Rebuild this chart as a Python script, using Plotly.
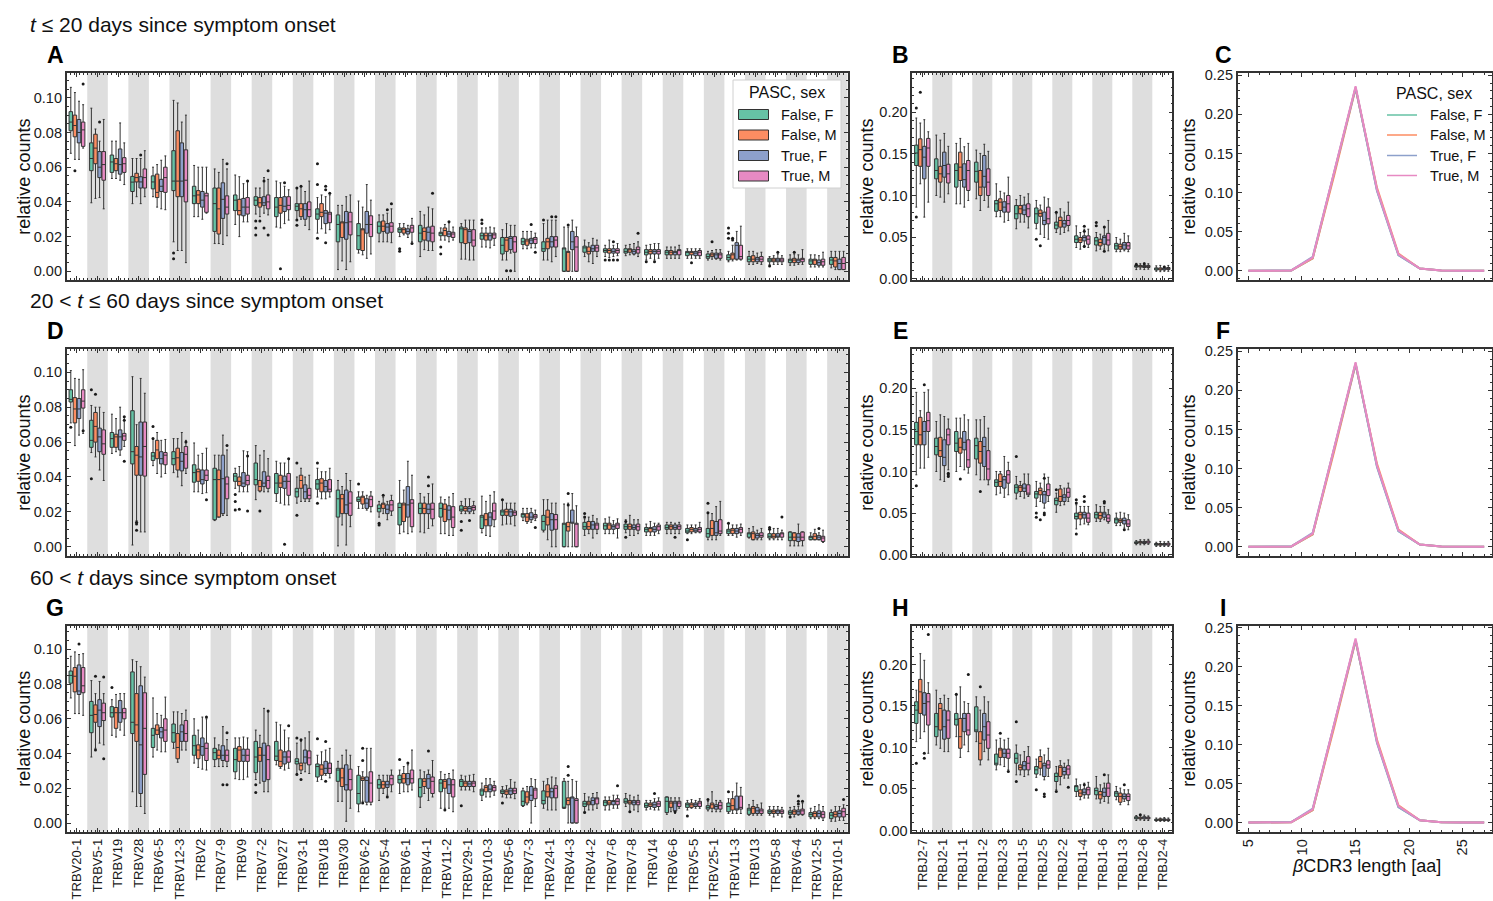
import plotly.graph_objects as go

W, H = 1493, 901
FONT = "Liberation Sans, Arial, Helvetica, sans-serif"
EDGE = "#333333"

GROUPS = ["False, F", "False, M", "True, F", "True, M"]
COLORS = ["#66c2a5", "#fc8d62", "#8da0cb", "#e78ac3"]

TRBV = ["TRBV20-1", "TRBV5-1", "TRBV19", "TRBV28", "TRBV6-5", "TRBV12-3", "TRBV2",
        "TRBV7-9", "TRBV9", "TRBV7-2", "TRBV27", "TRBV3-1", "TRBV18", "TRBV30",
        "TRBV6-2", "TRBV5-4", "TRBV6-1", "TRBV4-1", "TRBV11-2", "TRBV29-1",
        "TRBV10-3", "TRBV5-6", "TRBV7-3", "TRBV24-1", "TRBV4-3", "TRBV4-2",
        "TRBV7-6", "TRBV7-8", "TRBV14", "TRBV6-6", "TRBV5-5", "TRBV25-1",
        "TRBV11-3", "TRBV13", "TRBV5-8", "TRBV6-4", "TRBV12-5", "TRBV10-1"]
TRBJ = ["TRBJ2-7", "TRBJ2-1", "TRBJ1-1", "TRBJ1-2", "TRBJ2-3", "TRBJ1-5", "TRBJ2-5",
        "TRBJ2-2", "TRBJ1-4", "TRBJ1-6", "TRBJ1-3", "TRBJ2-6", "TRBJ2-4"]

# Box statistics per gene: (lower whisker, Q1, median, Q3, upper whisker), in units of 1e-3
# ---- t <= 20 days, TRBV ----
V1_FF = [(68, 81, 86, 92, 106), (39.5, 58, 65, 74, 94), (53.5, 57, 63, 67, 75), (39, 46, 51.4, 54.7, 65),
         (43, 47.5, 51.5, 55, 60), (17, 46.5, 52, 69.5, 98.5), (31.5, 39, 43.5, 49, 61), (16, 23, 39, 48, 59),
         (27, 35, 41, 44, 55.5), (33, 38, 41, 43, 48), (25.5, 31.5, 37, 42.5, 52), (29.5, 35, 37.5, 39, 48),
         (22, 30, 33, 36, 42.5), (1, 17, 27, 32.5, 38), (10.5, 12.5, 20.5, 27.5, 40.5), (17, 22, 26, 28.5, 32.5),
         (20, 22.5, 24, 25, 27.5), (8.5, 17, 22, 26.5, 34.5), (18, 20.5, 22, 22.5, 25), (7, 16.5, 24.5, 25.5, 27.5),
         (14, 18.5, 20.5, 22, 25), (6.5, 10, 15, 19.5, 24), (13, 15.5, 17, 19, 23), (6.5, 11.5, 13, 17, 27.5),
         (0, 0, 13, 13.5, 25.5), (8.5, 11, 13.5, 14.5, 18), (8.5, 11, 12, 13, 15), (9, 10.5, 11.5, 13, 15),
         (6.5, 9.5, 11, 12.5, 15), (7.5, 9.5, 11, 12, 14), (7.5, 9, 11, 11.5, 13), (6.5, 7.5, 8.5, 10, 11.5),
         (5.5, 6.5, 8, 9.5, 11.5), (4, 5.5, 7, 8.5, 11.5), (4, 5.5, 6.5, 7.5, 8.5), (3.5, 5, 6.5, 7, 9.5),
         (2.5, 4, 6, 7, 9.5), (2, 4, 6.5, 8, 11.5)]
V1_FM = [(64.5, 77.5, 84, 90, 103), (42, 62, 71, 79, 82), (53.5, 58, 62, 65, 75), (43, 51.5, 54, 56.5, 65),
         (37, 42.5, 45.5, 56, 61.5), (12, 43, 52, 81, 97), (31.5, 39, 44, 46.5, 60), (16, 21.5, 36, 48, 57),
         (20, 32.5, 35, 41.5, 54.5), (31.5, 37, 39.5, 42.5, 48), (25, 33.5, 38, 42.5, 51), (30, 31.5, 36, 39, 49),
         (24.5, 31.5, 34, 39, 44), (6, 19.5, 28, 28.5, 38), (9.5, 12, 24, 24.5, 37), (17, 23, 26, 29, 32.5),
         (21, 22, 24, 25, 27.5), (12.5, 18, 23, 25, 32.5), (18, 20.5, 23.5, 25, 27), (7, 16, 24, 25, 29.5),
         (14, 18, 20.5, 22, 25), (6.5, 11.5, 18, 19.5, 27.5), (13, 15, 17.5, 18.5, 23), (6.5, 13, 17, 19, 29.5),
         (0, 0, 11, 11.5, 25.5), (5.5, 10, 11.5, 14, 16.5), (8, 10.5, 12, 13, 18), (9.5, 11, 12.5, 13, 15.5),
         (7.5, 10, 11.5, 12.5, 15.5), (7.5, 9.5, 11, 12, 14), (7.5, 9.5, 11, 11.5, 13), (7, 8.5, 9.5, 10.5, 12),
         (6, 7, 9.5, 10.5, 15), (4, 5.5, 7, 9, 11.5), (4, 5.5, 6.5, 7.5, 9), (3.5, 5, 6.5, 7.5, 10),
         (2.5, 4, 6.5, 7, 9.5), (1, 2.5, 6, 8, 11.5)]
V1_TF = [(64.5, 74, 80, 87.5, 98), (42.5, 54, 60, 69, 75), (52.5, 56, 61.5, 70.5, 85.5), (39, 48, 51.5, 54.5, 65),
         (36, 46, 49, 53, 64), (12, 43, 52, 74, 86), (30, 37, 41, 46, 60), (15.5, 30.5, 41.5, 51, 64.5),
         (28.5, 32, 37, 42, 50.5), (33.5, 38, 39.5, 43, 54), (27.5, 34.5, 37.5, 43, 49), (26.5, 30, 35.5, 39, 46),
         (22, 27.5, 33.5, 35, 43), (1, 18.5, 28, 34.5, 43), (7.5, 22, 27, 34.5, 50), (17, 22, 25.5, 27.5, 33.5),
         (19.5, 21.5, 23, 24.5, 26.5), (12, 17.5, 22.5, 25.5, 37), (17, 20, 21.5, 23, 28), (6.5, 16.5, 23, 24, 29.5),
         (13.5, 18, 20.5, 22, 25.5), (10.5, 12.5, 19, 20, 26.5), (13.5, 16, 18, 19, 23), (5.5, 14, 17, 20, 29.5),
         (0, 12.5, 17, 23, 29.5), (4.5, 11.5, 13, 15, 19), (8.5, 10.5, 11.5, 13, 15), (9.5, 10, 11.5, 12.5, 16),
         (6.5, 10, 11.5, 12.5, 16), (7.5, 9.5, 11, 11.5, 14), (7.5, 9, 10.5, 11.5, 13), (7, 7.5, 9.5, 10.5, 12.5),
         (6.5, 7, 15, 16.5, 23), (4.5, 5.5, 7, 8, 10.5), (4, 5.5, 6.5, 7.5, 10), (4, 5, 6.5, 7, 9.5),
         (2.5, 3.5, 5, 6.5, 9), (1, 1, 4.5, 7, 11.5)]
V1_TM = [(71, 72, 81.5, 86, 96), (36, 52.5, 61.5, 69, 87.5), (50, 57, 62, 65.5, 74), (43, 48, 54, 59, 69.5),
         (35.5, 45.5, 54, 60, 66.5), (5, 40, 52.5, 70, 90), (33.5, 34, 43.5, 45, 60), (20.5, 33, 37, 43.5, 59),
         (28.5, 33, 37, 42.5, 52), (32.5, 36, 40, 44, 53), (29.5, 35.5, 38, 43, 47), (24, 31.5, 35.5, 40, 52),
         (24, 28, 33, 34, 44), (5.5, 21, 28.5, 34, 44), (10, 20, 27, 32, 41), (16.5, 22.5, 26, 28, 36),
         (17, 22.5, 25, 26.5, 30.5), (12, 17, 22, 26, 36), (18, 19.5, 21.5, 22.5, 25.5), (6.5, 14.5, 18, 24, 29.5),
         (15, 19, 21, 22, 25), (0, 11, 17, 20, 26.5), (13.5, 16, 18.5, 19.5, 22), (8.5, 14, 18, 20, 29.5),
         (0, 0, 14, 20, 25.5), (8.5, 11.5, 13.5, 15, 18), (9, 10.5, 12, 13, 16), (8.5, 10.5, 12.5, 14, 17),
         (7.5, 10, 11.5, 12.5, 16), (7.5, 9.5, 12, 12.5, 15), (7.5, 9, 11, 12, 13), (6.5, 7.5, 9.5, 10.5, 12.5),
         (6.5, 7, 8.5, 15, 26), (4, 5.5, 7, 8.5, 11), (4, 5.5, 6.5, 7.5, 9), (4, 5.5, 7, 7.5, 12.5),
         (2.5, 3.5, 5.5, 7, 11), (1, 1, 4.5, 8, 11.5)]
# outliers: (gene position, group index, value x 1e-3)
V1_OUT = [(1, 3, 108), (1, 1, 58), (2, 2, 86), (4, 2, 67), (6, 0, 10.5), (6, 0, 7.3), (8, 3, 62), (9, 3, 52),
          (10, 0, 29), (10, 0, 25), (10, 0, 21), (10, 1, 29), (10, 2, 52), (10, 2, 25), (10, 3, 58), (10, 3, 21),
          (11, 1, 1.5), (11, 2, 51), (12, 0, 48), (12, 0, 29.5), (12, 0, 26.5), (12, 1, 49), (13, 0, 62),
          (13, 0, 50), (13, 0, 19), (13, 2, 49), (13, 2, 47), (13, 2, 16.5), (13, 3, 45), (16, 2, 35.5),
          (16, 3, 39), (17, 0, 13), (17, 0, 11.5), (17, 3, 16), (18, 3, 45), (19, 0, 14), (19, 0, 10),
          (19, 2, 28.5), (21, 0, 29.5), (21, 0, 27.5), (22, 1, 0.4), (22, 2, 0.4), (23, 2, 27), (23, 3, 11),
          (24, 0, 29.5), (24, 2, 31.5), (24, 3, 31.5), (25, 1, 26.7), (27, 0, 6.5), (27, 1, 6.5), (27, 2, 6.5),
          (27, 2, 17), (27, 3, 6.5), (28, 3, 22), (29, 0, 5.5), (29, 2, 5.5), (31, 1, 5), (32, 1, 17),
          (33, 0, 25), (33, 0, 22), (33, 0, 19), (33, 1, 19), (33, 1, 18), (35, 0, 3), (35, 2, 11), (36, 1, 11)]

# ---- 20 < t <= 60 days, TRBV ----
V2_FF = [(71, 83, 84.5, 90, 101), (54, 57, 61, 72.5, 81), (53.5, 57, 62, 65.5, 76), (1, 47.5, 54.5, 78, 97.5),
         (46.5, 49.5, 52, 54, 61.5), (42.5, 47, 50.5, 54.5, 62), (31.5, 37, 42.5, 47, 59.5), (15, 15.5, 38.5, 45, 52.5),
         (33.5, 37.5, 40.5, 42, 45), (27, 35.5, 38.5, 48, 58), (26, 30.5, 36.5, 42, 49), (25, 28.5, 31.5, 33.5, 40),
         (28.5, 33, 36, 38.5, 45), (0.5, 17, 27.5, 32.5, 38), (22, 26, 27, 28.5, 31.5), (17, 20, 22, 24, 26),
         (7.5, 12.5, 22.5, 25, 38), (8.5, 19, 22, 25, 30.5), (7.5, 17, 22, 25, 28.5), (19, 20.5, 21.5, 23.5, 26),
         (8, 10.5, 17, 18, 29), (12.5, 18, 20, 21, 27), (15, 17, 18.5, 19, 22), (8.5, 9.5, 14.5, 18, 27),
         (0, 0, 13, 13.5, 24.5), (6.5, 10, 11.5, 14, 16), (7.5, 10, 12, 13.5, 16), (8, 10, 11.5, 13, 15.5),
         (6.5, 8.5, 10, 11, 13), (7.5, 10, 11, 12.5, 14), (7.5, 8, 9, 10.5, 12.5), (4, 5.5, 7.5, 10.5, 19),
         (6.5, 7.5, 9, 10, 13.5), (5, 5.5, 7.5, 8, 10.5), (4, 5, 6, 7.5, 11), (0.5, 3.5, 5.5, 8.5, 8.5),
         (4, 4, 5.5, 6, 8)]
V2_FM = [(58, 71, 79, 85.5, 96.5), (51.5, 60, 69, 77, 80), (54.5, 57, 63, 64.5, 73.5), (15, 41, 52.5, 57.5, 70),
         (42, 50.5, 55.5, 61, 65.5), (40, 44, 51, 56.5, 62), (31.5, 37.5, 43, 44.5, 52.5), (17, 17, 38.5, 44, 52.5),
         (31.5, 35, 37.5, 40, 46), (31.5, 32, 34.5, 38, 52.5), (25, 34, 36.5, 41, 48), (26, 33.5, 38, 41, 45),
         (27.5, 31.5, 36.5, 39, 43), (12.5, 19, 27.5, 30, 34.5), (22, 24.5, 28.5, 29, 31.5), (19, 22, 24.5, 25, 28.5),
         (8.5, 14.5, 24, 25, 32.5), (8, 19, 22, 25, 28.5), (7.5, 14.5, 21.5, 24.5, 27), (19, 20.5, 22, 23, 27.5),
         (6.5, 12, 15.5, 19, 26), (13, 18, 20, 21.5, 25), (13.5, 14.5, 17, 19, 22), (4, 12.5, 17, 21, 27),
         (0, 9, 11.5, 14, 25), (7.5, 10, 11.5, 14.5, 17), (7.5, 10, 12.5, 13.5, 17), (6.5, 10, 11.5, 13, 18),
         (6.5, 8.5, 10.5, 11, 14.5), (7.5, 10, 11.5, 12.5, 14), (7.5, 8.5, 10, 11, 12.5), (4, 6.5, 10.5, 15, 19),
         (6.5, 7.5, 9.5, 10.5, 12.5), (4, 4, 7.5, 8.5, 11.5), (4, 5, 6, 7.5, 10.5), (0.5, 3.5, 5.5, 8, 8),
         (4, 4, 6, 7.5, 10)]
V2_TF = [(64, 73.5, 79, 85, 96), (44, 54.5, 63, 68, 80), (52.5, 55.5, 63, 67, 80), (8.5, 41, 51.5, 71.5, 96.5),
         (40, 47.5, 50.5, 54.5, 61), (35, 43.5, 49, 54, 65.5), (30.5, 36, 38.5, 44, 53.5), (18, 19, 39, 52.5, 64),
         (31.5, 34.5, 36.5, 42.5, 55), (31.5, 34.5, 36.5, 43, 55), (24, 33.5, 37.5, 40.5, 48), (26, 27.5, 31.5, 35.5, 40),
         (27.5, 31.5, 34.5, 38, 43), (1, 19, 24, 32.5, 42), (21, 22, 25, 27.5, 29.5), (15.5, 19, 21.5, 24, 26),
         (7.5, 17, 24, 34.5, 49), (10.5, 19, 21.5, 24.5, 30.5), (6.5, 15.5, 21, 23.5, 28.5), (19, 20, 22, 23, 27.5),
         (6, 12, 17, 19.5, 29.5), (13, 17.5, 20, 21.5, 25), (14, 15.5, 17, 19.5, 22), (0, 9.5, 15.5, 19, 25),
         (0, 13.5, 14, 21, 30.5), (5, 10, 12.5, 14.5, 18), (7.5, 10, 11.5, 12.5, 15), (6.5, 10, 11, 12.5, 15.5),
         (6.5, 8.5, 10, 11.5, 13.5), (7.5, 10, 11, 12.5, 13.5), (8, 8.5, 9.5, 10.5, 12.5), (4, 6.5, 8, 14.5, 23),
         (5.5, 7.5, 9, 10.5, 12.5), (4, 5, 6.5, 7.5, 9.5), (4, 5.5, 6, 7.5, 10.5), (0.5, 3, 5.5, 7.5, 13),
         (4, 4, 5.5, 6.5, 8)]
V2_TM = [(65, 79.5, 83.5, 90, 101.5), (38, 53, 59, 67, 77), (57.5, 61, 63.5, 65, 74.5), (8.5, 40.5, 57.5, 71.5, 88),
         (42, 47, 52.5, 54, 61.5), (42, 45, 53, 57.5, 61), (31, 38, 41, 44, 56.5), (18, 27.5, 36, 40, 55.5),
         (31.5, 35.5, 38, 41, 54.5), (31.5, 33.5, 38, 40.5, 50.5), (24, 29.5, 37.5, 42, 50.5), (26, 27.5, 29.5, 33.5, 41),
         (28.5, 31.5, 33, 38.5, 45), (11.5, 18, 25, 31.5, 38), (20, 23, 27, 29, 31.5), (18, 20.5, 24, 26.5, 29.5),
         (8.5, 11.5, 25, 27, 41), (12, 16, 21.5, 25, 36), (6.5, 11, 17, 23, 30.5), (19, 21, 22.5, 23.5, 26),
         (11.5, 15.5, 20.5, 25, 31.5), (12, 18, 19.5, 20.5, 25), (15, 16.5, 17.5, 18.5, 21), (0, 10, 15.5, 18.5, 25),
         (0, 0, 13, 13.5, 23.5), (7.5, 10, 12.5, 13.5, 16), (5, 10.5, 12.5, 13.5, 16), (7.5, 9.5, 11.5, 13, 15.5),
         (7.5, 9.5, 11.5, 12.5, 13.5), (7.5, 10, 11.5, 12.5, 14), (8, 8.5, 10, 11, 14), (6.5, 7.5, 9, 15.5, 26),
         (6.5, 8, 10, 11, 13), (4, 5.5, 6.5, 8, 10.5), (4, 5.5, 7.5, 8, 9.5), (0.5, 3.5, 5.5, 8.5, 8.5),
         (2.5, 3, 5, 6, 9.5)]
V2_OUT = [(1, 0, 68.5), (1, 3, 66.5), (2, 0, 90), (2, 0, 39), (2, 1, 87.5), (3, 3, 74.5), (3, 3, 72.5), (3, 3, 49),
          (4, 1, 14), (4, 1, 13), (4, 1, 9.5), (5, 0, 69), (5, 0, 62), (6, 3, 60), (7, 3, 27), (8, 3, 58),
          (9, 0, 30), (9, 0, 26), (9, 0, 21), (9, 1, 21.5), (9, 3, 52), (9, 3, 20.5), (10, 1, 20.5), (11, 2, 1.5),
          (11, 3, 50.5), (12, 0, 48), (12, 0, 18), (13, 0, 48), (13, 0, 25), (15, 0, 36), (16, 0, 13.5),
          (16, 0, 12.5), (16, 1, 29.5), (18, 2, 40), (18, 2, 35), (20, 0, 14.5), (20, 0, 9.5), (20, 2, 15),
          (22, 0, 27), (23, 3, 11), (25, 1, 30.5), (25, 1, 24), (26, 0, 19), (26, 0, 17), (28, 0, 14.5),
          (28, 0, 5.5), (30, 2, 5.5), (31, 0, 4), (32, 0, 25), (32, 0, 19.5), (33, 0, 13.5), (35, 0, 11),
          (35, 0, 10), (35, 3, 17), (37, 2, 10.5)]

# ---- t > 60 days, TRBV ----
V3_FF = [(72, 80.5, 85, 87.5, 96), (38, 52, 62, 70, 82), (50.5, 61, 63.5, 67, 71), (18, 51.5, 58, 87, 94),
         (38, 43.5, 50.5, 54.5, 72), (43, 46.5, 52, 57, 64), (34.5, 39, 44.5, 50.5, 60), (32.5, 36.5, 40.5, 43, 49),
         (25.5, 29.5, 36.5, 43, 49), (25, 29, 38, 47, 53.5), (33.5, 36, 38.5, 47, 58), (28.5, 34, 35.5, 37, 46),
         (24, 26.5, 32.5, 34, 39), (12.5, 24, 30.5, 31.5, 35.5), (6.5, 11, 17, 27.5, 32.5), (13, 20, 22, 25, 27.5),
         (17, 23, 25, 27.5, 30.5), (9, 15, 20.5, 25.5, 30.5), (8.5, 18, 23, 25, 29.5), (19, 21, 24, 25, 27.5),
         (13, 16, 18.5, 19.5, 23), (15, 17, 18, 19, 21), (9.5, 10, 12.5, 18.5, 20), (8.5, 11, 13, 18.5, 24),
         (8.5, 8.5, 8.6, 24, 25.5), (6.5, 9.5, 11, 12.5, 17), (7.5, 10, 12, 13, 15), (9.5, 11.5, 12.5, 14, 17),
         (7.5, 9, 10, 11.5, 13), (5, 6, 12.5, 15, 15), (7.5, 9, 10.5, 11.5, 13), (7, 8, 9, 10, 12.5),
         (5.5, 6.5, 9.5, 11.5, 14), (4.5, 5, 7.5, 8.5, 10.5), (4.5, 5.5, 6.5, 7.5, 9.5), (3.5, 5, 6, 7, 9),
         (2.5, 3.5, 5, 6, 8.5), (1, 2.5, 4.5, 6, 7.5)]
V3_FM = [(63, 75.5, 84.5, 89.5, 98.5), (43, 58, 62.5, 68, 74.5), (49.5, 54.5, 63.5, 66.5, 74), (9.5, 47, 56.5, 74.5, 93),
         (42, 51, 53.5, 56.5, 63), (35, 37, 43.5, 51.5, 64), (32, 37, 42, 45, 53.5), (32.5, 37, 39, 42, 45),
         (25, 35.5, 42, 44, 49), (23, 35.5, 39, 43.5, 50.5), (31.5, 32.5, 35.5, 42, 56.5), (28.5, 30.5, 33, 34.5, 47),
         (25, 27.5, 31, 33.5, 41), (12.5, 21, 26, 31.5, 39), (12.5, 24.5, 25.5, 26.5, 29.5), (17, 20, 22, 24, 27.5),
         (18, 23, 25.5, 28.5, 32.5), (17, 21, 24, 25.5, 29.5), (8.5, 20, 24, 25, 28), (19, 21, 23, 24, 27),
         (15, 18, 20.5, 21.5, 25.5), (14.5, 16.5, 18, 19, 21.5), (10.5, 11.5, 15, 18, 21), (7.5, 15, 18, 22, 25.5),
         (0, 10.5, 13, 14.5, 24), (7.5, 10.5, 11.5, 12.5, 15), (7.5, 10.5, 11.5, 13, 15), (6.5, 11, 12, 13, 16),
         (8, 9.5, 10.5, 11.5, 13), (6.5, 9, 11.5, 12.5, 14.5), (8.5, 9, 10.5, 11.5, 13.5), (6.5, 8.5, 10.5, 11.5, 18),
         (5.5, 7.5, 10, 14, 18), (4.5, 5.5, 8.5, 9.5, 13), (3.5, 5.5, 6.5, 7.5, 9.5), (3.5, 5, 6.5, 7.5, 9.5),
         (2.5, 3.5, 5.5, 6.5, 9.5), (1, 3.5, 5, 6.5, 9.5)]
V3_TF = [(63, 74, 76, 91, 97), (46, 55.5, 65, 71, 81.5), (53.5, 58, 63.5, 70.5, 74.5), (9.5, 17, 45, 79, 90),
         (41, 49, 52.5, 55, 62), (42, 47, 52.5, 56.5, 63), (31, 39, 44, 49, 61), (32.5, 36, 39, 44.5, 55.5),
         (25, 35.5, 39, 42.5, 49.5), (18, 24, 39, 46, 66), (30.5, 34, 38, 41, 53.5), (29.5, 34.5, 38, 42, 49),
         (27.5, 28.5, 31.5, 35.5, 42), (1, 19, 22, 33.5, 42), (10.5, 12, 24.5, 26.5, 43), (16, 20.5, 22, 24, 27.5),
         (18, 22, 25.5, 28.5, 33.5), (13, 20, 25.5, 28, 30.5), (8.5, 17, 22, 25.5, 28.5), (19, 21, 22.5, 24, 27.5),
         (15, 18, 19.5, 22, 25.5), (14.5, 16.5, 18.5, 20, 25), (0, 13, 16, 21, 25.5), (7.5, 14.5, 18, 20, 26.5),
         (0, 0, 14.5, 15, 25), (7.5, 10.5, 13, 14.5, 17), (8.5, 10.5, 12.5, 13, 16), (7.5, 10.5, 12, 13, 15),
         (7.5, 9, 10.5, 12, 14), (5.5, 7, 11.5, 12.5, 14.5), (8.5, 9.5, 10.5, 11.5, 13), (6.5, 8, 9.5, 10.5, 13),
         (5.5, 7.5, 8, 15.5, 23), (4.5, 5.5, 7, 9, 10.5), (4.5, 5.5, 7, 7.5, 9.5), (4.5, 5, 6.5, 7.5, 9.5),
         (2.5, 3.5, 5.5, 7, 10.5), (1.5, 3.5, 5.5, 7, 9.5)]
V3_TM = [(62, 75, 79, 89.5, 97.5), (45, 59, 63.5, 69, 74.5), (50.5, 60, 63.5, 66, 74.5), (5.5, 28, 54.5, 75, 84),
         (41, 47, 53.5, 60, 72.5), (42, 47, 51.5, 59, 65), (30.5, 36, 43, 46, 60), (32.5, 35.5, 39, 42, 48),
         (26.5, 35.5, 39, 42.5, 49), (18, 25, 36.5, 44.5, 64), (31.5, 35, 38, 41.5, 49), (28.5, 33.5, 37.5, 41.5, 52.5),
         (26, 28.5, 31.5, 34.5, 43), (8.5, 19, 25, 31, 39), (10.5, 12, 23, 29.5, 43), (18, 22, 25.5, 27.5, 30.5),
         (19, 23, 25.5, 30.5, 42), (15, 17, 24, 26.5, 36), (6.5, 15, 22, 25, 30.5), (18, 21, 23, 24, 28),
         (16, 18.5, 20.5, 21.5, 24), (14, 17, 18.5, 20, 23.5), (9.5, 14, 19, 20, 25), (7.5, 14.5, 20, 21.5, 26),
         (0, 0, 13, 14, 24), (8.5, 11, 14, 14.5, 17.5), (8.5, 10.5, 12.5, 14, 16), (6.5, 10.5, 12, 13, 16),
         (7.5, 9.5, 11, 12.5, 14.5), (8.5, 9.5, 11.5, 12.5, 14.5), (8.5, 9.5, 11.5, 12.5, 14), (6.5, 8, 10, 12, 13),
         (5.5, 8, 9, 15.5, 20.5), (4.5, 5.5, 7, 8, 11.5), (3.5, 5.5, 6.5, 7.5, 9), (4.5, 5, 7, 8, 11.5),
         (1.5, 3, 5, 6.5, 9.5), (1.5, 3.5, 6.5, 8.5, 10.5)]
V3_OUT = [(1, 2, 103), (2, 1, 84.5), (2, 1, 42), (2, 3, 84), (2, 3, 37), (3, 0, 78), (7, 3, 61), (8, 2, 22),
          (8, 3, 22), (8, 3, 52), (10, 0, 22), (10, 0, 17.5), (10, 3, 64.5), (11, 3, 56), (12, 0, 49), (12, 0, 28),
          (12, 1, 48), (12, 1, 25), (13, 0, 48.5), (13, 2, 47), (13, 2, 24), (15, 1, 43), (15, 1, 36),
          (15, 1, 11.5), (16, 2, 15), (17, 0, 36.5), (17, 2, 34.5), (18, 2, 41.5), (19, 1, 7.5), (20, 0, 10),
          (22, 0, 11.5), (25, 1, 32.5), (25, 1, 27.5), (26, 0, 6), (27, 3, 21.5), (28, 1, 6.5), (29, 2, 17),
          (30, 2, 6.5), (31, 0, 4), (32, 0, 13.5), (33, 0, 18), (36, 0, 3.5), (36, 2, 15.5), (36, 2, 12.5),
          (36, 2, 11), (36, 3, 12.5), (38, 3, 13.5)]

# ---- TRBJ, three time windows ----
J1_FF = [(86, 136, 151, 160.5, 193), (100, 120, 130, 144, 172.5), (90, 110, 130, 138, 162.5), (96, 116, 129, 140, 154.5),
         (74.5, 81, 90, 94, 114), (60, 72, 78, 88, 95), (60, 66.5, 78, 85, 94), (55.5, 60, 64.5, 68, 78),
         (37.5, 43.5, 47.5, 51.5, 63.5), (33.5, 40.5, 45.5, 49.5, 55.5), (32.5, 35.5, 39.5, 42.5, 49.5),
         (11, 14, 15, 16, 18.5), (9, 10.5, 12, 13, 15.5)]
J1_FM = [(114, 135, 155, 168, 187), (98, 116, 126, 135, 166.5), (90, 118, 134, 152, 168.5), (82, 100, 110, 130, 150.5),
         (74.5, 82, 92, 96, 105), (68, 78, 84, 88, 100), (53.5, 75, 78.5, 82.5, 88.5), (53.5, 62, 70, 74, 84),
         (35.5, 43.5, 46.5, 49.5, 55.5), (35.5, 39.5, 43.5, 47.5, 53.5), (32.5, 35.5, 38.5, 41.5, 47.5),
         (11.5, 14, 15, 16, 18), (8.5, 10.5, 11.5, 13, 16)]
J1_TF = [(74, 120, 146, 159, 191), (92, 122, 136, 152, 174.5), (86, 110, 119, 138, 158.5), (94, 110, 123, 148, 161.5),
         (68, 80, 86, 92.5, 103), (68, 77, 82.5, 88.5, 98), (49.5, 65, 70, 80, 98), (55.5, 62, 66, 70, 80),
         (37.5, 45.5, 49.5, 51.5, 59.5), (35.5, 41.5, 49.5, 51.5, 61.5), (33.5, 35.5, 40.5, 43.5, 54.5),
         (11, 13.5, 14.5, 16, 19), (9, 10.5, 11.5, 13, 15)]
J1_TM = [(92, 135, 157, 168.5, 176.5), (102, 115, 126, 137.5, 159), (94, 106, 130, 142, 162.5), (86, 100, 116, 132, 153),
         (70, 80, 90, 100, 122), (61, 74.5, 84, 90, 102), (47.5, 66, 72, 86, 96), (57.5, 64, 70, 76, 92),
         (37.5, 41.5, 47.5, 51.5, 59.5), (33.5, 40.5, 46.5, 54.5, 70), (32.5, 35.5, 39.5, 43.5, 51.5),
         (11.5, 13.5, 15, 16, 18), (9, 11, 12, 13.5, 16)]
J1_OUT = [(1, 0, 205), (1, 0, 74), (1, 1, 224), (7, 0, 47.5), (7, 1, 39.5), (8, 0, 80), (9, 2, 63), (9, 2, 57),
          (9, 2, 39), (10, 0, 67.5), (10, 0, 63.5), (10, 2, 62), (10, 2, 33), (12, 0, 17), (12, 2, 18), (13, 2, 14)]

J2_FF = [(96, 132, 148, 159, 195), (100, 120, 130, 140, 160), (100, 124, 134, 148, 164), (96, 115, 131, 140, 162),
         (72, 82, 87, 90, 100), (67, 74, 81, 84, 94), (58, 68, 73, 76, 88), (51, 60, 65, 68, 74),
         (31, 43, 46, 50, 60), (40, 44, 48, 51, 60), (35, 38, 42, 44, 50), (12, 13.5, 14.5, 15.5, 17),
         (10, 11.5, 12.5, 13.5, 15)]
J2_FM = [(104, 132, 144, 165, 173), (90, 118, 125, 141, 168), (106, 122, 129, 140, 164), (90, 110, 124, 136, 162),
         (74, 82, 88, 97, 100), (70, 76, 81, 83, 88), (64, 72, 77, 80, 86), (59, 64, 70, 79, 83),
         (36, 43, 48, 51, 58), (40, 43, 47, 51, 58), (35, 39, 41, 43, 51), (12, 14, 15, 16, 18),
         (10, 11.5, 12.5, 13.5, 16)]
J2_TF = [(104, 132, 148, 160, 195), (88, 107, 117, 138, 166), (102, 126, 135, 148, 168), (90, 106, 130, 141, 166),
         (69, 80, 90, 94, 118), (68, 76, 80, 85, 97), (56, 62, 72, 76, 97), (60, 64, 69, 72, 80),
         (37, 44, 48, 51, 58), (42, 45, 49, 51, 58), (32, 37, 41, 44, 50), (12, 13.5, 15, 16, 18),
         (10, 11.5, 12.5, 13.5, 15.5)]
J2_TM = [(117, 148, 161, 171, 198), (102, 132, 144, 151, 163), (98, 105, 114, 138, 162), (84, 90, 103, 125, 152),
         (72, 86, 96, 101, 111), (70, 72, 74, 84, 97), (64, 71, 78, 85, 93), (64, 69, 75, 80, 86),
         (36, 39, 44, 50, 58), (38, 40, 44, 48, 54), (30, 34, 37, 42, 48), (12.5, 14, 15.5, 16.5, 18.5),
         (10, 11.5, 13, 14, 16)]
J2_OUT = [(1, 0, 83), (1, 2, 204), (2, 3, 98), (2, 3, 94), (2, 3, 96), (3, 1, 91), (4, 1, 76), (6, 0, 118),
          (7, 0, 50), (7, 0, 45), (7, 1, 42), (7, 2, 50), (7, 2, 48), (7, 2, 92), (8, 0, 78), (9, 0, 66),
          (9, 0, 62), (9, 0, 25), (9, 2, 70), (9, 2, 64), (10, 2, 64), (10, 2, 62), (11, 2, 30)]

J3_FF = [(107, 129, 145, 155, 169), (103, 113, 125, 141, 169), (113, 127, 134, 141, 163), (107, 119, 121, 149, 161),
         (73, 79, 81, 92, 109), (67, 81, 87, 93, 103), (64, 68, 73, 77, 86), (49, 59, 65, 69, 77),
         (41, 47, 53, 54, 62), (38, 43, 48, 51, 65), (37, 41, 45, 47, 53), (12, 14, 15, 16.5, 18),
         (11, 12, 12.5, 13.5, 15)]
J3_FM = [(111, 141, 167, 182, 213), (99, 121, 147, 153, 159), (88, 99, 113, 135, 173), (79, 85, 105, 119, 145),
         (79, 88, 97, 99, 111), (67, 73, 76, 79, 91), (67, 75, 83, 89, 97), (55, 65, 76, 78, 84),
         (37, 41, 45, 49, 55), (33, 38, 43, 47, 55), (31, 34, 41, 45, 51), (12.5, 14, 15, 16, 18.5),
         (11, 12, 13, 14, 15)]
J3_TF = [(119, 139, 153, 166, 205), (95, 110, 125, 145, 163), (103, 119, 135, 141, 155), (95, 109, 125, 141, 161),
         (77, 88, 93, 98, 109), (65, 73, 78, 83, 95), (61, 65, 78, 81, 91), (63, 67, 71, 76, 81),
         (39, 43, 46, 50, 57), (35, 41, 46, 51, 57), (35, 38, 41, 44, 49), (12, 14, 15.5, 16.5, 18.5),
         (11, 12, 13, 14, 15.5)]
J3_TM = [(93, 127, 155, 165, 178), (95, 111, 133, 144, 159), (95, 115, 121, 141, 153), (85, 99, 115, 131, 155),
         (73, 87, 93, 98, 111), (67, 73, 81, 89, 101), (65, 75, 79, 84, 99), (63, 67, 74, 78, 85),
         (39, 43, 49, 52, 58), (33, 41, 51, 57, 67), (31, 36, 41, 44, 49), (12, 14, 15, 16, 17.5),
         (11, 12, 12.5, 13.5, 15)]
J3_OUT = [(1, 0, 81), (1, 2, 93), (1, 2, 87), (1, 3, 236), (3, 0, 164), (3, 3, 188), (4, 1, 173), (5, 1, 117),
          (5, 3, 71), (6, 0, 131), (6, 0, 59), (7, 0, 49), (7, 2, 44), (7, 2, 41), (8, 0, 47), (8, 3, 52),
          (9, 2, 55), (10, 2, 67), (11, 2, 55), (12, 1, 19)]

# ---- beta CDR3 length distribution (relative counts) ----
CDR3_LEN = [5, 7, 9, 11, 13, 15, 17, 19, 21, 23, 25, 27]
CDR3_FF = [0, 0, 0.0005, 0.016, 0.124, 0.234, 0.103, 0.020, 0.003, 0.0004, 0.0001, 0]
CDR3_FM = [0, 0, 0.0005, 0.016, 0.122, 0.233, 0.106, 0.022, 0.003, 0.0005, 0.0001, 0]
CDR3_TF = [0, 0, 0.0006, 0.018, 0.127, 0.234, 0.102, 0.020, 0.003, 0.0004, 0.0001, 0]
CDR3_TM = [0, 0, 0.0005, 0.017, 0.125, 0.236, 0.104, 0.021, 0.003, 0.0004, 0.0001, 0]

ROW_TITLES = ["<i>t</i> ≤ 20 days since symptom onset",
              "20 &lt; <i>t</i> ≤ 60 days since symptom onset",
              "60 &lt; <i>t</i> days since symptom onset"]
LETTERS = ["A", "B", "C", "D", "E", "F", "G", "H", "I"]

# ---------------------------------------------------------------- layout geometry (pixels)
X_DOM = [(66.7, 847.7), (912.3, 1172.3), (1237.7, 1492.2)]
Y_DOM = [(73.3, 280.0), (349.3, 556.0), (625.7, 831.7)]
V_RANGES = [(-0.0050, 0.1141), (-0.0053, 0.1132), (-0.0050, 0.1136)]
J_RANGE = (-0.0015, 0.2467)
L_RANGE = (-0.0117, 0.2525)
OFFSETS = (-0.3, -0.1, 0.1, 0.3)
BOX_W = 0.17
BAND = "#dedede"


def fx(px):
    return px / W


def fy(py):
    return 1 - py / H


def sfx(n):
    # plotly names the first axis pair "x"/"y", the others "x2", "y2", ...
    return "" if n == 1 else str(n)


fig = go.Figure()
shapes, annotations = [], []


def add_box_panel(n, groups, outliers, n_slots):
    xr, yr = "x" + sfx(n), "y" + sfx(n)
    for s in range(2, n_slots + 1, 2):
        shapes.append(dict(type="rect", xref=xr, yref=yr + " domain", x0=s - 0.5, x1=s + 0.5,
                           y0=0, y1=1, fillcolor=BAND, line=dict(width=0), layer="below"))
    for g, stats in enumerate(groups):
        pos = [i + 1 + OFFSETS[g] for i in range(len(stats))]
        lo, q1, med, q3, hi = ([row[k] / 1000 for row in stats] for k in range(5))
        fig.add_trace(go.Box(
            x=pos, lowerfence=lo, q1=q1, median=med, q3=q3, upperfence=hi, orientation="v",
            width=BOX_W, fillcolor=COLORS[g], line=dict(color=EDGE, width=1), whiskerwidth=0.55,
            boxpoints=False, showlegend=False, hoverinfo="skip", name=GROUPS[g],
            xaxis=xr, yaxis=yr))
    fig.add_trace(go.Scatter(
        x=[s + OFFSETS[g] for s, g, _ in outliers], y=[v / 1000 for _, _, v in outliers],
        mode="markers", marker=dict(size=3, color="#1a1a1a"), showlegend=False, hoverinfo="skip",
        xaxis=xr, yaxis=yr))


def add_length_panel(n):
    for g, vals in enumerate([CDR3_FF, CDR3_FM, CDR3_TF, CDR3_TM]):
        fig.add_trace(go.Scatter(x=CDR3_LEN, y=vals, mode="lines", line=dict(color=COLORS[g], width=2),
                                 showlegend=False, hoverinfo="skip", name=GROUPS[g],
                                 xaxis="x" + sfx(n), yaxis="y" + sfx(n)))


V_SETS = [([V1_FF, V1_FM, V1_TF, V1_TM], V1_OUT),
          ([V2_FF, V2_FM, V2_TF, V2_TM], V2_OUT),
          ([V3_FF, V3_FM, V3_TF, V3_TM], V3_OUT)]
J_SETS = [([J1_FF, J1_FM, J1_TF, J1_TM], J1_OUT),
          ([J2_FF, J2_FM, J2_TF, J2_TM], J2_OUT),
          ([J3_FF, J3_FM, J3_TF, J3_TM], J3_OUT)]

TICKFONT = dict(family=FONT, size=14.5, color="#1a1a1a")
GENE_FONT = dict(family=FONT, size=13, color="#1a1a1a")
BASE_AX = dict(showline=True, linecolor=EDGE, linewidth=1.6, mirror="ticks", ticks="inside",
               ticklen=4, tickwidth=1, tickcolor=EDGE, showgrid=False, zeroline=False,
               tickfont=TICKFONT, fixedrange=True, automargin=False)

layout_axes = {}
for r in range(3):
    for c in range(3):
        n = r * 3 + c + 1
        x0, x1 = X_DOM[c]
        y0, y1 = Y_DOM[r]
        xa = dict(BASE_AX, domain=[fx(x0), fx(x1)], anchor="y" + sfx(n), showticklabels=(r == 2), tickangle=-90)
        ya = dict(BASE_AX, domain=[fy(y1), fy(y0)], anchor="x" + sfx(n), tickformat=".2f")
        if c == 0:
            groups, outs = V_SETS[r]
            add_box_panel(n, groups, outs, len(TRBV))
            xa.update(range=[0.5, len(TRBV) + 0.5], tickmode="array", tickvals=list(range(1, len(TRBV) + 1)),
                      ticktext=TRBV, tickfont=GENE_FONT,
                      minor=dict(ticks="inside", ticklen=2, tickcolor=EDGE, tick0=0.1, dtick=0.2))
            ya.update(range=list(V_RANGES[r]), tickmode="array", tickvals=[0, 0.02, 0.04, 0.06, 0.08, 0.10],
                      minor=dict(ticks="inside", ticklen=2, tickcolor=EDGE, dtick=0.005, tick0=0))
        elif c == 1:
            groups, outs = J_SETS[r]
            add_box_panel(n, groups, outs, len(TRBJ))
            xa.update(range=[0.5, len(TRBJ) + 0.5], tickmode="array", tickvals=list(range(1, len(TRBJ) + 1)),
                      ticktext=TRBJ, tickfont=GENE_FONT,
                      minor=dict(ticks="inside", ticklen=2, tickcolor=EDGE, tick0=0.1, dtick=0.2))
            ya.update(range=list(J_RANGE), tickmode="array", tickvals=[0, 0.05, 0.10, 0.15, 0.20],
                      minor=dict(ticks="inside", ticklen=2, tickcolor=EDGE, dtick=0.01, tick0=0))
        else:
            add_length_panel(n)
            xa.update(range=[4.0, 27.75], tickmode="array", tickvals=[5, 10, 15, 20, 25],
                      minor=dict(ticks="inside", ticklen=2, tickcolor=EDGE, dtick=1, tick0=0))
            ya.update(range=list(L_RANGE), tickmode="array", tickvals=[0, 0.05, 0.10, 0.15, 0.20, 0.25],
                      minor=dict(ticks="inside", ticklen=2, tickcolor=EDGE, dtick=0.01, tick0=0))
        layout_axes["xaxis" + sfx(n)] = xa
        layout_axes["yaxis" + sfx(n)] = ya

# ---------------------------------------------------------------- text
ROW_TITLE_Y = [25, 300, 577]
LETTER_X = [55, 900, 1223]
LETTER_Y = [55, 331, 608]
YTITLE_X = [24, 867, 1189]

for r in range(3):
    annotations.append(dict(text=ROW_TITLES[r], x=fx(28), y=fy(ROW_TITLE_Y[r]), xref="paper", yref="paper",
                            xanchor="left", yanchor="middle", showarrow=False,
                            font=dict(family=FONT, size=21, color="#111111")))
    yc = (Y_DOM[r][0] + Y_DOM[r][1]) / 2
    for c in range(3):
        annotations.append(dict(text=f"<b>{LETTERS[r * 3 + c]}</b>", x=fx(LETTER_X[c]), y=fy(LETTER_Y[r]),
                                xref="paper", yref="paper", xanchor="center", yanchor="middle",
                                showarrow=False, font=dict(family=FONT, size=23, color="#000000")))
        annotations.append(dict(text="relative counts", x=fx(YTITLE_X[c]), y=fy(yc), xref="paper",
                                yref="paper", xanchor="center", yanchor="middle", textangle=-90,
                                showarrow=False, font=dict(family=FONT, size=18, color="#111111")))

annotations.append(dict(text="<i>β</i>CDR3 length [aa]", x=fx(1366), y=fy(866), xref="paper", yref="paper",
                        xanchor="center", yanchor="middle", showarrow=False,
                        font=dict(family=FONT, size=18, color="#111111")))

# legend with colour patches (panel A)
shapes.append(dict(type="rect", xref="paper", yref="paper", x0=fx(733), x1=fx(841), y0=fy(188), y1=fy(80),
                   fillcolor="white", line=dict(color="#d0d0d0", width=1), layer="above"))
annotations.append(dict(text="PASC, sex", x=fx(787), y=fy(93), xref="paper", yref="paper",
                        xanchor="center", yanchor="middle", showarrow=False,
                        font=dict(family=FONT, size=16, color="#111111")))
LEG_ROWS = [114.5, 135, 155.5, 176]
for g, yy in enumerate(LEG_ROWS):
    shapes.append(dict(type="rect", xref="paper", yref="paper", x0=fx(738.5), x1=fx(768.5),
                       y0=fy(yy + 5), y1=fy(yy - 5), fillcolor=COLORS[g], line=dict(color=EDGE, width=1),
                       layer="above"))
    annotations.append(dict(text=GROUPS[g], x=fx(779), y=fy(yy), xref="paper", yref="paper",
                            xanchor="left", yanchor="middle", showarrow=False,
                            font=dict(family=FONT, size=14.5, color="#111111")))

# legend with line samples (panel C)
annotations.append(dict(text="PASC, sex", x=fx(1434), y=fy(94), xref="paper", yref="paper",
                        xanchor="center", yanchor="middle", showarrow=False,
                        font=dict(family=FONT, size=16, color="#111111")))
for g, yy in enumerate([115, 135, 155.5, 175.5]):
    shapes.append(dict(type="line", xref="paper", yref="paper", x0=fx(1387), x1=fx(1417),
                       y0=fy(yy), y1=fy(yy), line=dict(color=COLORS[g], width=1.5), layer="above"))
    annotations.append(dict(text=GROUPS[g], x=fx(1428), y=fy(yy), xref="paper", yref="paper",
                            xanchor="left", yanchor="middle", showarrow=False,
                            font=dict(family=FONT, size=14.5, color="#111111")))

fig.update_layout(
    width=W, height=H, margin=dict(l=0, r=0, t=0, b=0, autoexpand=False),
    paper_bgcolor="white", plot_bgcolor="white",
    font=dict(family=FONT, color="#111111"),
    showlegend=False, boxmode="overlay",
    shapes=shapes, annotations=annotations,
    **layout_axes,
)

fig.write_html("out.html")
